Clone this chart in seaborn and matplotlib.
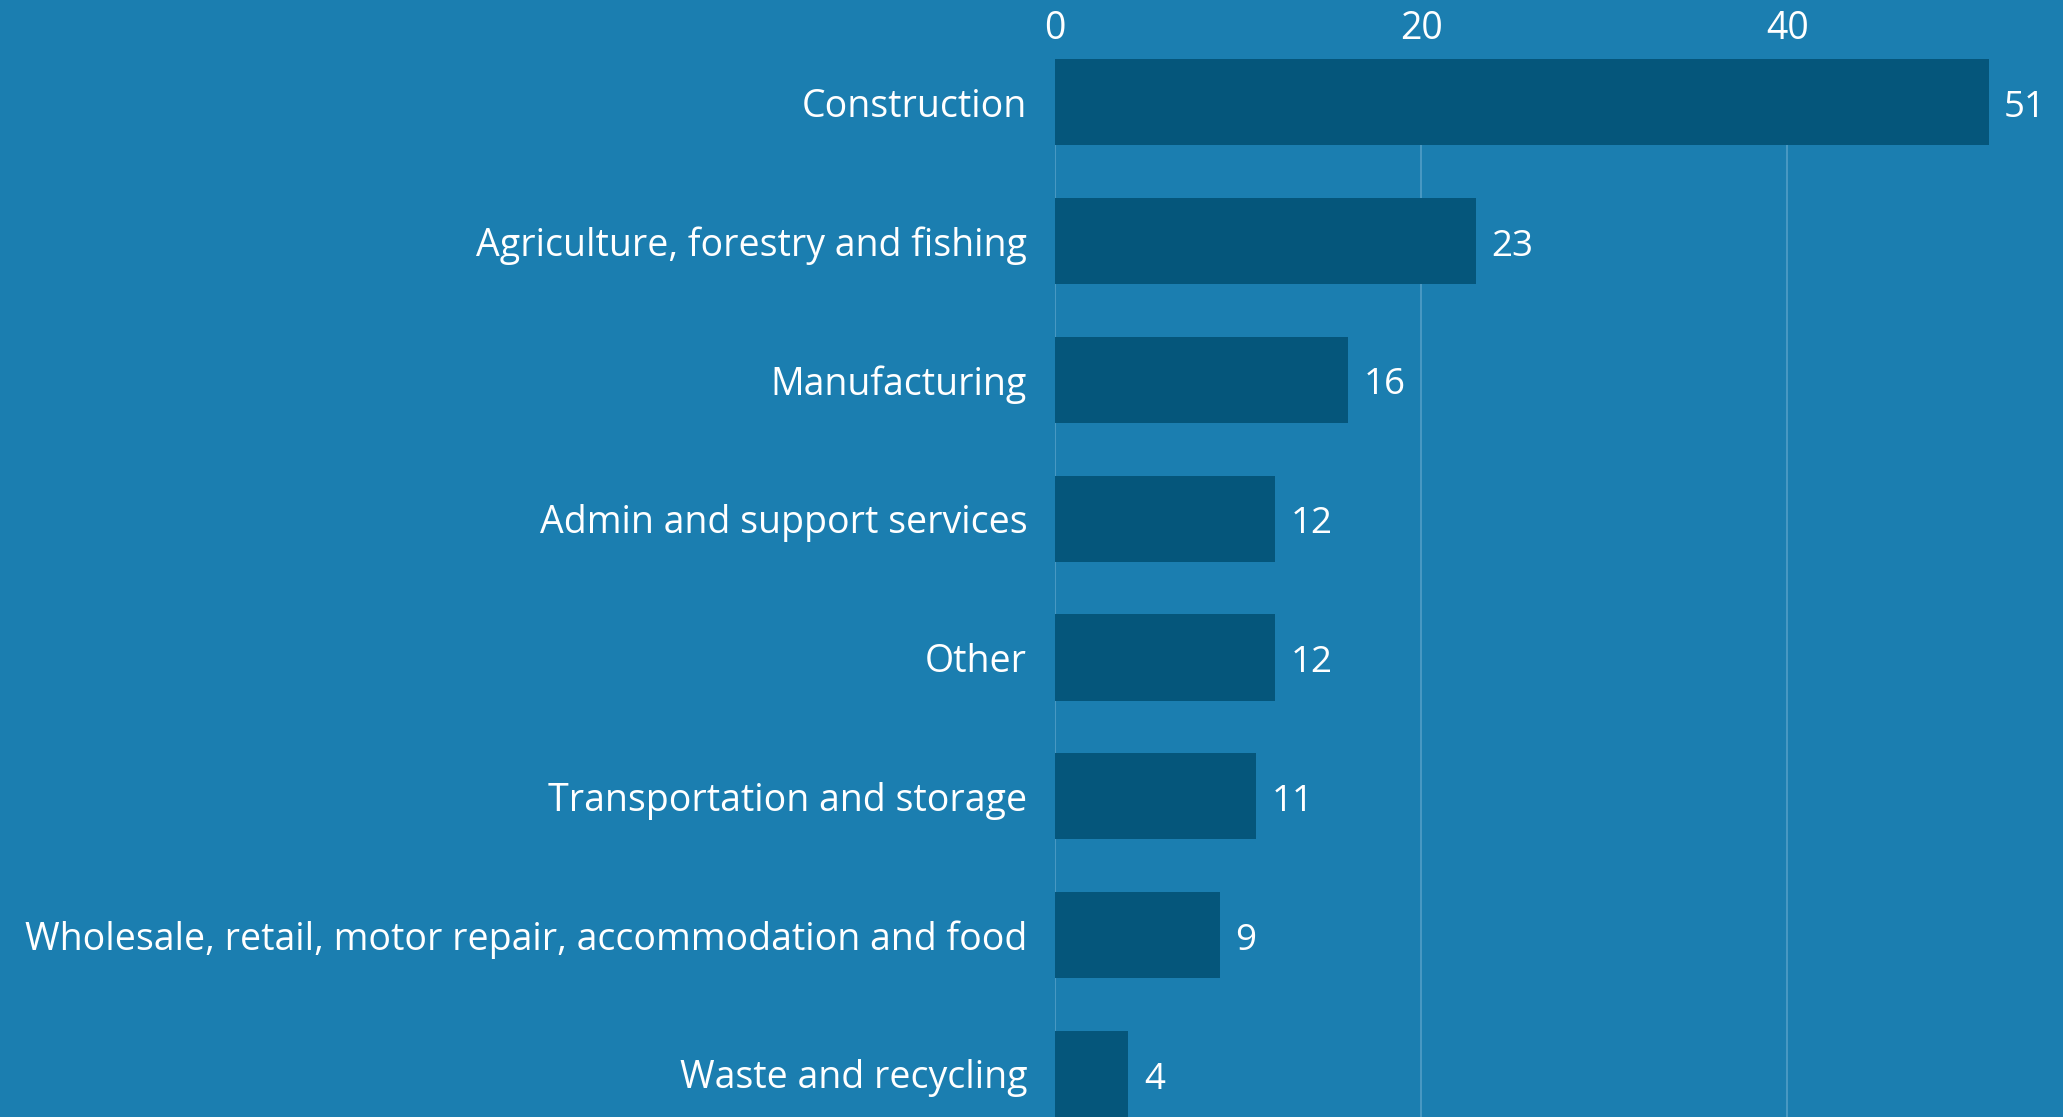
import matplotlib
matplotlib.use("Agg")
import matplotlib.pyplot as plt
import seaborn as sns
import pandas as pd

categories = [
    "Construction",
    "Agriculture, forestry and fishing",
    "Manufacturing",
    "Admin and support services",
    "Other",
    "Transportation and storage",
    "Wholesale, retail, motor repair, accommodation and food",
    "Waste and recycling",
]
values = [51, 23, 16, 12, 12, 11, 9, 4]
xticks = [0, 20, 40]

BG = "#1b7eb0"
BAR = "#05567b"
GRID = "#4d9bc4"

sns.set_theme(style="white")
plt.rcParams["font.family"] = ["Open Sans", "DejaVu Sans"]

df = pd.DataFrame({"category": categories, "value": values})

fig = plt.figure(figsize=(20.63, 11.17), dpi=100, facecolor=BG)
ax = fig.add_axes([0.5114, 0.0, 0.488, 0.947])
ax.set_facecolor(BG)

sns.barplot(data=df, y="category", x="value", orient="h", color=BAR,
            saturation=1, width=0.62, ax=ax, zorder=3)
for p in ax.patches:
    p.set_edgecolor("none")

ax.set_xlim(0, 55)
ax.set_ylim(len(categories) - 1 + 0.31, -0.31)
ax.set_xticks(xticks)
ax.set_xticklabels([str(t) for t in xticks])
ax.xaxis.tick_top()
ax.tick_params(axis="x", length=0, pad=8, labelsize=27, colors="white")
ax.tick_params(axis="y", length=0, pad=20, labelsize=27, colors="white")
ax.set_xlabel("")
ax.set_ylabel("")
for s in ax.spines.values():
    s.set_visible(False)
ax.grid(False)
for t in xticks:
    ax.axvline(t, color=GRID, lw=1.3, zorder=1)

for i, v in enumerate(values):
    ax.text(v + 0.85, i + 0.04, str(v), va="center", ha="left",
            fontsize=26.5, color="white", zorder=4)

fig.savefig("out.png", dpi=100, facecolor=BG)
